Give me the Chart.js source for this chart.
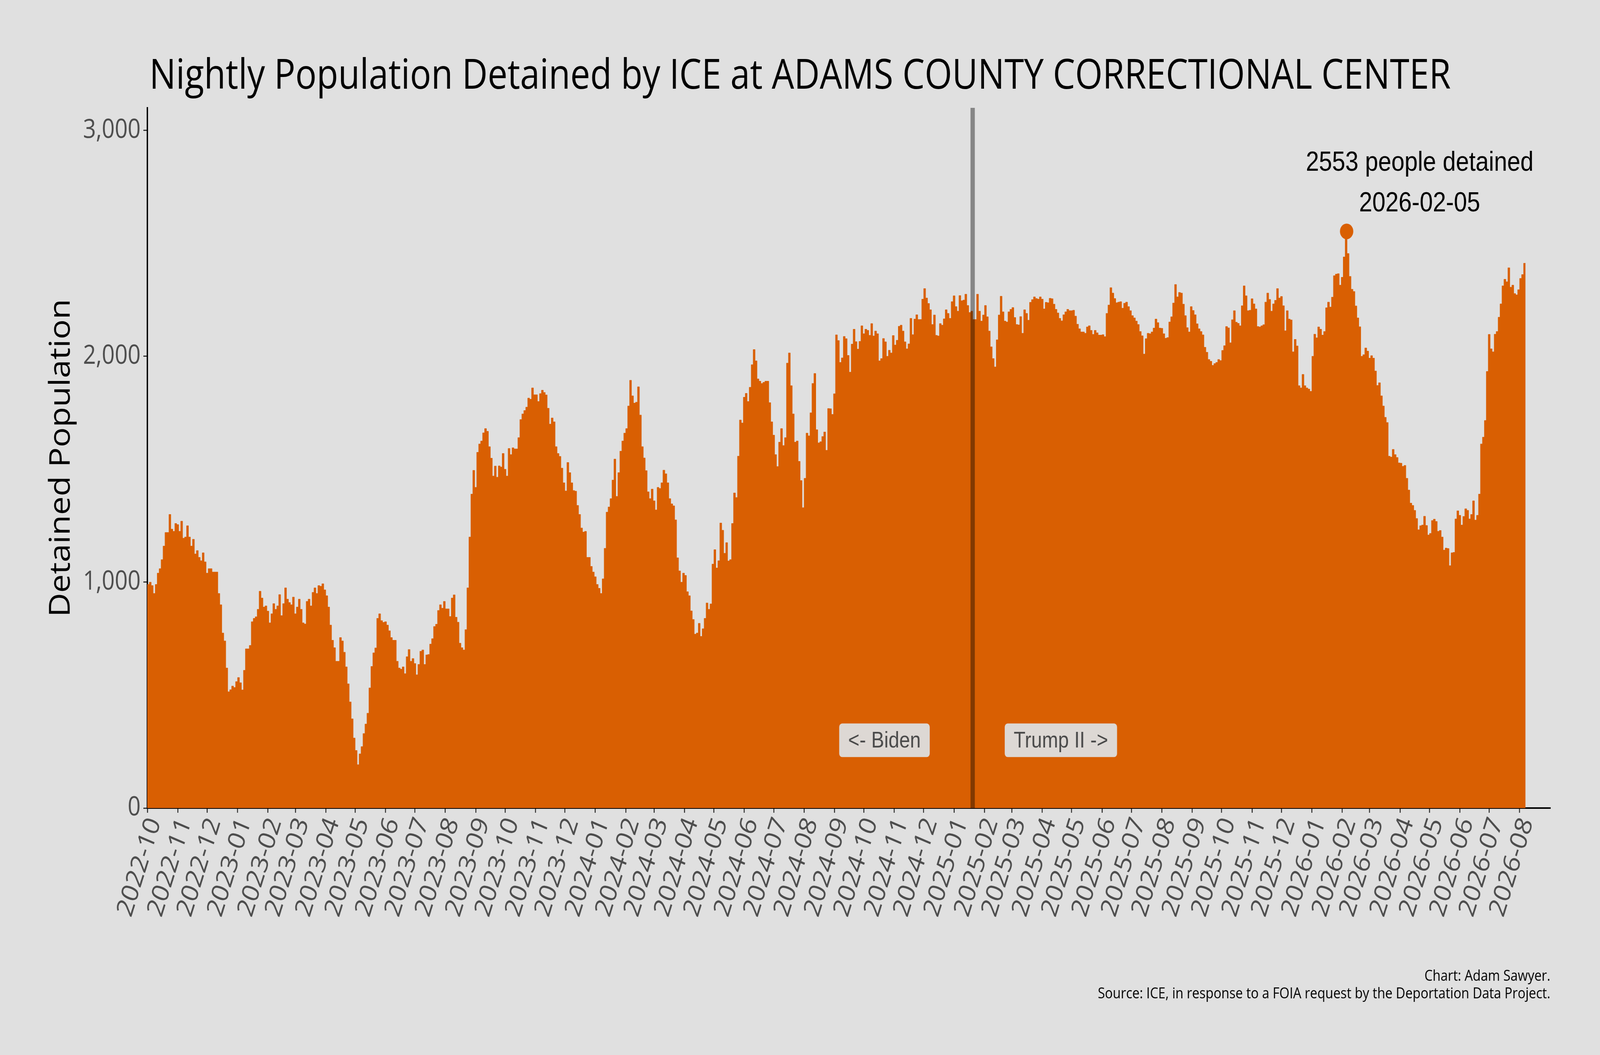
<!DOCTYPE html>
<html>
<head>
<meta charset="utf-8">
<script src="https://cdn.jsdelivr.net/npm/chart.js@4.4.1/dist/chart.umd.min.js"></script>
<style>
  html, body { margin: 0; padding: 0; background: #e0e0e0; overflow: hidden; }
  /* the chart is drawn on a 4800 x 2700 board and shown to fill the window */
  #c { display: block; width: 100vw !important; height: 100vh !important; }
</style>
</head>
<body>
<canvas id="c" width="4800" height="2700"></canvas>
<script>
// ---------------- DATA ----------------
const chartTitle = 'Nightly Population Detained by ICE at ADAMS COUNTY CORRECTIONAL CENTER';
const yAxisTitle = 'Detained Population';
const captionLines = ['Chart: Adam Sawyer.', 'Source: ICE, in response to a FOIA request by the Deportation Data Project.'];

const startDate = '2022-10-01';   // first night in the series
const binDays = 2;                // each value below covers two consecutive nights
// Nightly detained population (two-night bins)
const population = [
  990,1000,985,950,990,1040,1060,1100,1160,1220,
  1220,1300,1235,1225,1260,1255,1225,1270,1195,1200,
  1250,1200,1160,1190,1125,1140,1110,1095,1130,1090,
  1040,1060,1060,1045,1045,1045,950,900,775,740,
  620,515,524,540,534,560,578,555,523,610,
  705,705,720,825,840,847,880,960,930,890,
  895,872,820,860,905,880,895,945,852,905,
  975,925,910,900,934,860,890,925,880,820,
  815,915,925,895,955,975,950,985,982,993,
  966,940,890,810,743,710,650,650,755,740,
  690,625,550,470,395,310,255,192,240,272,
  330,372,420,532,627,687,709,840,860,830,
  822,825,
  810,785,755,743,743,650,620,615,625,595,
  670,702,650,662,640,590,636,694,700,636,
  678,680,726,750,804,814,875,900,885,915,
  882,882,848,930,944,845,823,730,710,700,
  790,975,1200,1390,1495,1420,1575,1612,1625,1661,
  1680,1668,1600,1549,1470,1514,1465,1515,1510,1570,
  1500,1470,1592,1565,1595,1590,1590,1640,1720,1745,
  1760,1775,1815,1810,1860,1830,1830,1800,1835,1850,
  1840,1829,1770,1700,1727,1710,1600,1570,1557,1505,
  1440,1404,1530,1485,1440,1406,1403,1340,1300,1240,
  1222,1225,1110,1110,1070,1045,1024,990,973,950,
  1015,1150,1310,1333,1370,1452,1545,
  1380,
  1485,1580,1625,1660,1680,1780,1894,1825,1793,1797,
  1865,1740,1600,1550,1494,1400,1370,1412,1360,1320,
  1420,1415,1440,1496,1480,1440,1370,1347,1338,1276,
  1108,1050,1000,1040,1030,958,940,873,835,770,
  775,818,760,794,840,908,880,904,1080,1144,
  1063,1095,1262,1230,1128,1175,1094,1100,1260,1395,
  1375,1558,1718,1705,1819,1836,1800,1863,1963,2030,
  1980,1900,1890,1880,1885,1890,1890,1795,1710,1651,
  1565,1512,1620,1680,1605,1640,1970,2015,1870,1745,
  1620,1625,1535,1450,1330,1460,1660,1648,1750,1880,
  1924,1675,1617,1622,1645,1665,1584,1769,1768,1743,
  1834,2095,2070,1973,1993,2088,2078,2004,1930,
  2054,2120,2065,2032,2066,2135,2100,2120,2115,2093,
  2145,2090,2112,2100,1980,1990,2079,2064,2000,2027,
  2015,2092,2050,2071,2133,2138,2112,2064,2033,2055,
  2168,2096,2165,2184,2163,2163,2253,2300,2258,2234,
  2206,2141,2183,2093,2090,2145,2138,2166,2206,2190,
  2168,2242,2268,2220,2200,2269,2246,2249,2275,2225,
  2194,2200,2163,2163,2275,2200,2156,2183,2225,2175,
  2112,2042,1990,1953,2073,2183,2266,2197,2156,2152,
  2197,2208,2216,2172,2141,2139,2176,2102,2206,2190,
  2160,2239,2251,2263,2256,2253,2263,2253,2210,2239,
  2237,2257,2255,2231,2208,2192,2168,2157,2184,2197,
  2208,2202,2202,2204,2178,2142,2122,2108,2108,
  2102,2130,2135,2115,2097,2115,2104,2094,2094,2096,
  2087,2190,2227,2304,2280,2256,2237,2240,2242,2213,
  2235,2240,2220,2202,2180,2170,2156,2141,2110,2091,
  2010,2078,2102,2100,2108,2125,2165,2149,2125,2124,
  2100,2080,2083,2152,2175,2236,2318,2263,2283,2280,
  2231,2180,2127,2108,2220,2203,2184,2144,2122,2110,
  2095,2040,2018,1986,1978,1960,1968,1973,1986,1981,
  2026,2047,2132,2126,2060,2162,2202,2151,2146,2135,
  2224,2312,2268,2202,2204,2255,2232,2210,2132,2130,
  2135,2140,2240,2280,2252,2200,2232,2248,2300,2258,
  2265,2224,2113,2202,2165,2161,2020,2075,2046,1870,
  1860,1920,1870,1860,1855,1845,2000,2098,2082,
  2130,2120,2094,2110,2215,2240,2218,2262,2357,2364,
  2366,2315,2350,2440,2553,2455,2354,2297,2287,2223,
  2170,2131,2000,2007,2037,2023,1992,2003,1992,1935,
  1871,1883,1825,1780,1730,1707,1558,1554,1588,1565,
  1552,1528,1527,1513,1517,1460,1408,1350,1340,1318,
  1282,1232,1250,1253,1292,1251,1209,1216,1273,1279,
  1269,1225,1229,1200,1142,1151,1149,1073,1130,1132,
  1280,1316,1296,1253,1291,1325,1318,1280,1300,1360,
  1275,1296,1390,1612,1642,1716,1933,2097,2033,2020,
  2098,2110,2173,2232,2312,2341,2330,2392,2306,2315,
  2278,2272,2295,2345,2362,2412
];

const monthTickLabels = [
  '2022-10','2022-11','2022-12',
  '2023-01','2023-02','2023-03','2023-04','2023-05','2023-06','2023-07','2023-08','2023-09','2023-10','2023-11','2023-12',
  '2024-01','2024-02','2024-03','2024-04','2024-05','2024-06','2024-07','2024-08','2024-09','2024-10','2024-11','2024-12',
  '2025-01','2025-02','2025-03','2025-04','2025-05','2025-06','2025-07','2025-08','2025-09','2025-10','2025-11','2025-12',
  '2026-01','2026-02','2026-03','2026-04','2026-05','2026-06','2026-07','2026-08'
];
const xAxisEnd = '2026-09-01';
const yTickValues = [0, 1000, 2000, 3000];
const yAxisMax = 3100;

const peakDate = '2026-02-05';
const peakValue = 2553;
const peakLabel = ['2553 people detained', '2026-02-05'];
const peakLabelOffsetDays = 75;
const peakLabelValues = [2855, 2675];

const inaugurationDate = '2025-01-20';
const eraLabels = ['<- Biden', 'Trump II ->'];
const eraLabelOffsetDays = [-90, 90];
const eraLabelValue = 300;

// ---------------- HELPERS ----------------
const DAY = 86400000;
function dayIndex(s) {
  const [y, m, d] = s.split('-').map(Number);
  const [y0, m0, d0] = startDate.split('-').map(Number);
  return Math.round((Date.UTC(y, m - 1, d || 1) - Date.UTC(y0, m0 - 1, d0)) / DAY);
}
const monthTickDays = monthTickLabels.map(l => dayIndex(l + '-01'));
const areaPoints = population.map((v, i) => ({ x: i * binDays, y: v }));
areaPoints.push({ x: population.length * binDays, y: population[population.length - 1] });
const peakDay = dayIndex(peakDate);
const inaugDay = dayIndex(inaugurationDate);

const ORANGE = '#D95F02';
const BG = '#e0e0e0';

function fitFont(ctx, text, family, maxSize, targetWidth) {
  let size = maxSize;
  ctx.font = `${size}px "${family}"`;
  const w = ctx.measureText(text).width;
  if (w > targetWidth) size = size * targetWidth / w;
  return `${size}px "${family}"`;
}

const bgPlugin = {
  id: 'bg',
  beforeDraw(chart) {
    const c = chart.ctx;
    c.save();
    c.fillStyle = BG;
    c.fillRect(0, 0, chart.width, chart.height);
    c.restore();
  }
};

const annPlugin = {
  id: 'ann',
  afterDatasetsDraw(chart) {
    const c = chart.ctx;
    const xs = chart.scales.x, ys = chart.scales.y;
    const area = chart.chartArea;
    c.save();
    // inauguration line
    const lx = xs.getPixelForValue(inaugDay);
    c.fillStyle = 'rgba(0,0,0,0.4)';
    c.fillRect(lx - 6.5, area.top, 13, area.bottom - area.top);
    // era labels
    c.font = '58px "Liberation Sans"';
    c.textAlign = 'center';
    c.textBaseline = 'middle';
    eraLabels.forEach((t, i) => {
      const cx = xs.getPixelForValue(inaugDay + eraLabelOffsetDays[i]);
      const cy = ys.getPixelForValue(eraLabelValue);
      const w = c.measureText(t).width + 54;
      const h = 86;
      c.fillStyle = '#ddd8d4';
      c.beginPath();
      if (c.roundRect) c.roundRect(cx - w / 2, cy - h / 2, w, h, 9); else c.rect(cx - w / 2, cy - h / 2, w, h);
      c.fill();
      c.fillStyle = '#4a4a4a';
      c.fillText(t, cx, cy + 2);
    });
    // peak annotation text
    c.fillStyle = '#000';
    c.font = '71px "Liberation Sans"';
    peakLabel.forEach((t, i) => {
      c.fillText(t, xs.getPixelForValue(peakDay + peakLabelOffsetDays), ys.getPixelForValue(peakLabelValues[i]));
    });
    c.restore();
  },
  afterDraw(chart) {
    const c = chart.ctx;
    const area = chart.chartArea;
    c.save();
    c.fillStyle = '#000';
    // title
    c.font = fitFont(c, chartTitle, 'Open Sans', 108, 3905);
    c.textAlign = 'left';
    c.textBaseline = 'alphabetic';
    c.fillText(chartTitle, area.left + 6, 227);
    // y-axis title
    c.save();
    c.translate(185, (area.top + area.bottom) / 2);
    c.rotate(-Math.PI / 2);
    c.font = fitFont(c, yAxisTitle, 'Open Sans', 86, 814);
    c.textAlign = 'center';
    c.textBaseline = 'middle';
    c.fillText(yAxisTitle, 0, 0);
    c.restore();
    // caption
    c.textAlign = 'right';
    c.font = fitFont(c, captionLines[1], 'Open Sans', 39, 1372);
    c.fillText(captionLines[0], area.right + 1, 2510);
    c.fillText(captionLines[1], area.right + 1, 2555);
    c.restore();
  }
};

const ctx = document.getElementById('c').getContext('2d');
new Chart(ctx, {
  type: 'line',
  data: {
    datasets: [
      {
        data: areaPoints,
        stepped: 'before',
        fill: 'origin',
        backgroundColor: ORANGE,
        borderColor: ORANGE,
        borderWidth: 1,
        pointRadius: 0,
        tension: 0,
        order: 2
      },
      {
        type: 'scatter',
        data: [{ x: peakDay + 0.5, y: peakValue }],
        pointRadius: 20,
        pointBackgroundColor: ORANGE,
        pointBorderWidth: 0,
        backgroundColor: ORANGE,
        borderWidth: 0,
        order: 1
      }
    ]
  },
  options: {
    responsive: false,
    animation: false,
    devicePixelRatio: 1,
    layout: { padding: { left: 0, top: 276, right: 150, bottom: 0 } },
    plugins: {
      legend: { display: false },
      tooltip: { enabled: false },
      title: { display: false }
    },
    scales: {
      x: {
        type: 'linear',
        min: 0,
        max: dayIndex(xAxisEnd),
        afterBuildTicks: s => { s.ticks = monthTickDays.map(v => ({ value: v })); },
        afterFit: s => { s.height = 632; },
        ticks: {
          autoSkip: false,
          maxRotation: 70,
          minRotation: 70,
          padding: 2,
          labelOffset: 22,
          color: '#4d4d4d',
          font: { family: 'Open Sans', size: 70 },
          callback: (v) => monthTickLabels[monthTickDays.indexOf(v)]
        },
        grid: { drawOnChartArea: false, drawTicks: true, tickLength: 12, color: '#333333', lineWidth: 3 },
        border: { display: true, color: '#000000', width: 4 }
      },
      y: {
        min: 0,
        max: yAxisMax,
        afterBuildTicks: s => { s.ticks = yTickValues.map(v => ({ value: v })); },
        afterFit: s => { s.width = 442; },
        ticks: {
          padding: 8,
          color: '#4d4d4d',
          font: { family: 'Open Sans', size: 68 },
          callback: v => v.toLocaleString('en-US')
        },
        grid: { drawOnChartArea: false, drawTicks: true, tickLength: 12, color: '#333333', lineWidth: 3 },
        border: { display: true, color: '#000000', width: 4 }
      }
    }
  },
  plugins: [bgPlugin, annPlugin]
});
</script>
</body>
</html>
